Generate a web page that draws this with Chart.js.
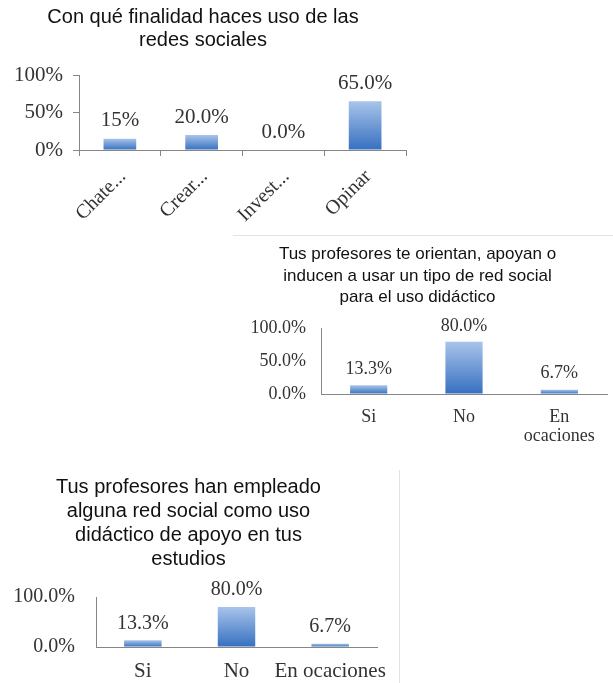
<!DOCTYPE html>
<html>
<head>
<meta charset="utf-8">
<script src="https://cdn.jsdelivr.net/npm/chart.js@4"></script>
<style>
	body { margin: 0; background: #fff; width: 613px; height: 683px; position: relative; overflow: hidden; }
	canvas { position: absolute; }
	#finalidad { left: 0; top: 0; }
	#orientan { left: 228px; top: 236px; }
	#empleado { left: 0; top: 462px; }
	#borde2 { position: absolute; left: 233px; top: 235px; width: 380px; border-top: 1px solid #e3e3e3; }
	#borde3 { position: absolute; left: 399px; top: 470px; height: 213px; border-left: 1px solid #e3e3e3; }
</style>
</head>
<body>
<div id="borde2"></div>
<div id="borde3"></div>
<canvas id="finalidad" width="426" height="230"></canvas>
<canvas id="orientan" width="380" height="219"></canvas>
<canvas id="empleado" width="392" height="221"></canvas>
<script>
// datos
var finalidadCategorias = ['Chate...', 'Crear...', 'Invest...', 'Opinar'];
var finalidadValores = [15, 20, 0, 65];
var finalidadEtiquetas = ['15%', '20.0%', '0.0%', '65.0%'];

var orientanCategorias = ['Si', 'No', ['En', 'ocaciones']];
var orientanValores = [13.3, 80, 6.7];

var empleadoCategorias = ['Si', 'No', 'En ocaciones'];
var empleadoValores = [13.3, 80, 6.7];

var sans = '"Liberation Sans", Arial, sans-serif';
var serif = '"Liberation Serif", "Times New Roman", serif';
var gris = '#868686';

// degradado de cada barra (claro arriba, oscuro abajo)
function degradado(c) {
	var chart = c.chart;
	if (!chart.chartArea) return '#4f81bd';
	var y = chart.scales.y;
	var arriba = y.getPixelForValue(c.raw);
	var base = y.getPixelForValue(0);
	if (base - arriba < 1) arriba = base - 1;
	var g = chart.ctx.createLinearGradient(0, arriba, 0, base);
	g.addColorStop(0, '#a8c4ea');
	g.addColorStop(1, '#3670c0');
	return g;
}

// etiquetas de valor sobre las barras
function etiquetas(textos, size, sep) {
	return {
		id: 'etiquetas',
		afterDatasetsDraw: function(chart) {
			var ctx = chart.ctx;
			ctx.save();
			ctx.font = size + 'px ' + serif;
			ctx.fillStyle = '#333';
			ctx.textAlign = 'center';
			ctx.textBaseline = 'middle';
			chart.getDatasetMeta(0).data.forEach(function(bar, i) {
				ctx.fillText(textos[i], bar.x, bar.y - sep);
			});
			ctx.restore();
		}
	};
}

// alto fijo del eje x, sin reservar hueco para las etiquetas que sobresalen
function altoX(h) {
	return function(s) {
		s.height = h;
		s.paddingLeft = 0;
		s.paddingRight = 0;
	};
}

window.onload = function() {
	//Con qué finalidad
	var finalidad = document.getElementById("finalidad").getContext("2d");
	var finalidad = new Chart(finalidad, {
		type: 'bar',
		data: {
			labels: finalidadCategorias,
			datasets: [{
				data: finalidadValores,
				backgroundColor: degradado,
				barPercentage: 0.4,
				categoryPercentage: 1
			}]
		},
		plugins: [etiquetas(finalidadEtiquetas, 21, 18)],
		options: {
			responsive: false,
			animation: false,
			layout: { padding: { left: 0, right: 20, top: 0, bottom: 0 } },
			plugins: {
				legend: { display: false },
				tooltip: { enabled: false },
				title: {
					display: true,
					text: ['Con qué finalidad haces uso de las', 'redes sociales'],
					color: '#111',
					font: { family: sans, size: 20, weight: 'normal', lineHeight: 1.15 },
					padding: { top: 6, bottom: 23 }
				}
			},
			scales: {
				x: {
					grid: { drawOnChartArea: false, tickLength: 6, color: gris },
					border: { color: gris },
					ticks: { font: { family: serif, size: 20 }, color: '#333', minRotation: 45, maxRotation: 45, padding: 9, labelOffset: 3, autoSkip: false },
					afterFit: altoX(80)
				},
				y: {
					min: 0,
					max: 100,
					grid: { drawOnChartArea: false, tickLength: 6, color: gris },
					border: { color: gris },
					ticks: {
						stepSize: 50,
						font: { family: serif, size: 21 },
						color: '#333',
						padding: 10,
						callback: function(v) { return v + '%'; }
					},
					afterFit: function(s) { s.width = 79; }
				}
			}
		}
	});

	//Tus profesores te orientan
	var orientan = document.getElementById("orientan").getContext("2d");
	var orientan = new Chart(orientan, {
		type: 'bar',
		data: {
			labels: orientanCategorias,
			datasets: [{
				data: orientanValores,
				backgroundColor: degradado,
				barPercentage: 0.39,
				categoryPercentage: 1
			}]
		},
		plugins: [etiquetas(orientanValores.map(function(v) { return v.toFixed(1) + '%'; }), 18, 16)],
		options: {
			responsive: false,
			animation: false,
			layout: { padding: { left: 0, right: 1, top: 0, bottom: 0 } },
			plugins: {
				legend: { display: false },
				tooltip: { enabled: false },
				title: {
					display: true,
					text: ['Tus profesores te orientan, apoyan o', 'inducen a usar un tipo de red social', 'para el uso didáctico'],
					color: '#111',
					font: { family: sans, size: 17, weight: 'normal', lineHeight: 1.25 },
					padding: { top: 8, bottom: 21 }
				}
			},
			scales: {
				x: {
					grid: { drawOnChartArea: false, drawTicks: false, color: gris },
					border: { color: gris },
					ticks: { font: { family: serif, size: 18, lineHeight: 1.05 }, color: '#333', maxRotation: 0, padding: 14, autoSkip: false },
					afterFit: altoX(61)
				},
				y: {
					min: 0,
					max: 100,
					grid: { drawOnChartArea: false, drawTicks: false, color: gris },
					border: { color: gris },
					ticks: {
						stepSize: 50,
						font: { family: serif, size: 18 },
						color: '#333',
						padding: 15,
						callback: function(v) { return v.toFixed(1) + '%'; }
					},
					afterFit: function(s) { s.width = 93; }
				}
			}
		}
	});

	//Tus profesores han empleado
	var empleado = document.getElementById("empleado").getContext("2d");
	var empleado = new Chart(empleado, {
		type: 'bar',
		data: {
			labels: empleadoCategorias,
			datasets: [{
				data: empleadoValores,
				backgroundColor: degradado,
				barPercentage: 0.4,
				categoryPercentage: 1
			}]
		},
		plugins: [etiquetas(empleadoValores.map(function(v) { return v.toFixed(1) + '%'; }), 20, 17)],
		options: {
			responsive: false,
			animation: false,
			layout: { padding: { left: 0, right: 15, top: 0, bottom: 0 } },
			plugins: {
				legend: { display: false },
				tooltip: { enabled: false },
				title: {
					display: true,
					text: ['Tus profesores han empleado', 'alguna red social como uso', 'didáctico de apoyo en tus', 'estudios'],
					color: '#111',
					font: { family: sans, size: 20, weight: 'normal', lineHeight: 1.2 },
					padding: { top: 13, bottom: 26 }
				}
			},
			scales: {
				x: {
					grid: { drawOnChartArea: false, drawTicks: false, color: gris },
					border: { color: gris },
					ticks: { font: { family: serif, size: 21 }, color: '#333', maxRotation: 0, padding: 12, autoSkip: false },
					afterFit: altoX(36)
				},
				y: {
					min: 0,
					max: 100,
					grid: { drawOnChartArea: false, drawTicks: false, color: gris },
					border: { color: gris },
					ticks: {
						stepSize: 100,
						font: { family: serif, size: 20 },
						color: '#333',
						padding: 21,
						callback: function(v) { return v.toFixed(1) + '%'; }
					},
					afterFit: function(s) { s.width = 96; }
				}
			}
		}
	});
};
</script>
</body>
</html>
